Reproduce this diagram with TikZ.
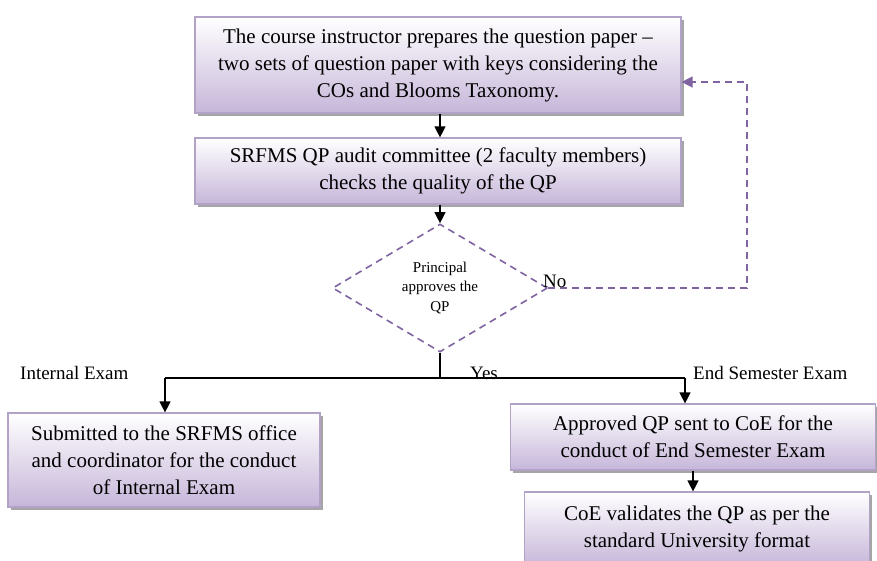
\documentclass[tikz,border=0pt]{standalone}
\usepackage{fontspec}
\setmainfont{Liberation Serif}
\usetikzlibrary{shapes.geometric,arrows.meta,shadows}

\definecolor{lav}{HTML}{C6B6D9}
\definecolor{lavedge}{HTML}{B3A2C7}
\definecolor{dashpurple}{HTML}{8064A2}
\definecolor{shadowgray}{HTML}{9C9C9C}

\tikzset{
  x=1pt, y=-1pt,
  procbox/.style={rectangle, draw=lavedge, line width=1.2pt,
    top color=white, bottom color=lav, shading angle=0,
    align=center, inner sep=0pt,
    font=\fontsize{21}{27}\selectfont,
    drop shadow={shadow xshift=2.5pt, shadow yshift=-2.5pt,
      fill=shadowgray, opacity=0.9}},
  decision/.style={diamond, draw=dashpurple, dashed, line width=1.6pt,
    dash pattern=on 7pt off 5pt, inner sep=0pt, align=center,
    minimum width=215pt, minimum height=127pt,
    font=\fontsize{15}{19.5}\selectfont},
  flow/.style={line width=1.2pt, -{Triangle[length=11pt,width=11pt]}},
  plain/.style={line width=1.2pt},
  loopback/.style={draw=dashpurple, line width=1.6pt,
    dash pattern=on 7pt off 5pt,
    -{Triangle[length=11pt,width=11pt,fill=dashpurple]}},
  lbl/.style={font=\fontsize{19}{22}\selectfont, inner sep=0pt}
}

\begin{document}
\begin{tikzpicture}
\clip (0,0) rectangle (877,560);
\fill[white] (0,0) rectangle (877,560);

% process steps
\node[procbox, minimum width=486pt, minimum height=96pt] (prep) at (438,65)
  {The course instructor prepares the question paper --\\
   two sets of question paper with keys considering the\\
   COs and Blooms Taxonomy.};
\node[procbox, minimum width=486pt, minimum height=66pt] (audit) at (438,171)
  {SRFMS QP audit committee (2 faculty members)\\
   checks the quality of the QP};
\node[decision] (approve) at (440,288)
  {Principal\\ approves the\\ QP};
\node[procbox, minimum width=312pt, minimum height=94pt] (internal) at (164,460)
  {Submitted to the SRFMS office\\
   and coordinator for the conduct\\
   of Internal Exam};
\node[procbox, minimum width=365pt, minimum height=66pt] (coe) at (693,437)
  {Approved QP sent to CoE for the\\
   conduct of End Semester Exam};
\node[procbox, minimum width=345pt, minimum height=74pt] (validate) at (697,529)
  {CoE validates the QP as per the\\
   standard University format};

% branch points
\coordinate (split) at (440,378);
\coordinate (leftbr) at (165,378);
\coordinate (rightbr) at (685,378);
\coordinate (loopcorner) at (747,82);

% main flow
\draw[flow] (prep.south -| approve) -- (audit.north -| approve);
\draw[flow] (audit.south -| approve) -- (approve.north);
\draw[plain] (approve.south) -- (split);
\draw[plain] (leftbr) -- (rightbr);
\draw[flow] (leftbr) -- (leftbr |- internal.north);
\draw[flow] (rightbr) -- (rightbr |- coe.north);
\draw[flow] (coe.south) -- (coe.south |- validate.north);

% rejection loop
\draw[loopback] (approve.east) -- (approve.east -| loopcorner)
  -- (loopcorner) -- (loopcorner -| prep.east);

% labels
\node[lbl, anchor=base west] (nolbl) at (543,287) {No};
\node[lbl, anchor=base west] (yeslbl) at (470,379) {Yes};
\node[lbl, anchor=base west] (intlbl) at (20,379) {Internal Exam};
\node[lbl, anchor=base west] (endlbl) at (693,379) {End Semester Exam};
\end{tikzpicture}
\end{document}
